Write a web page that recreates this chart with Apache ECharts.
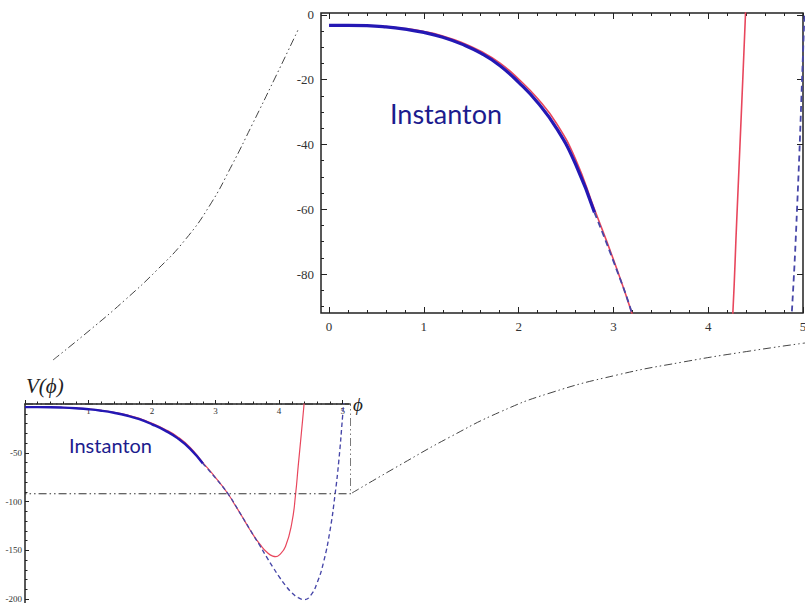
<!DOCTYPE html>
<html>
<head>
<meta charset="utf-8">
<script src="https://cdn.jsdelivr.net/npm/echarts@6/dist/echarts.min.js"></script>
<style>
	html, body { margin: 0; padding: 0; background: #fff; }
	#chart { width: 805px; height: 603px; }
</style>
</head>
<body>
<div id="chart"></div>
<script>
// red solid potential
var phiRed = [0, 0.4, 0.8, 1.0, 1.2, 1.4, 1.6, 1.8, 2.0, 2.2, 2.4, 2.6, 2.8, 3.0, 3.2, 3.3, 3.4, 3.5, 3.6, 3.7, 3.8, 3.9, 3.95, 4.0, 4.1, 4.2, 4.26, 4.3, 4.35, 4.39, 4.42]
var vRed = [-3.2, -3.3, -4.2, -5.1, -6.5, -8.5, -11.2, -14.8, -19.8, -25.8, -33.5, -44.5, -60, -75.5, -92.5, -103, -113.5, -124.5, -135, -144, -151.5, -156, -156.5, -155, -146, -122, -92, -64, -30, -2, 20]
// blue dashed potential
var phiBlue = [2.8, 3.0, 3.2, 3.4, 3.6, 3.7, 3.8, 3.9, 4.0, 4.1, 4.2, 4.3, 4.4, 4.5, 4.6, 4.7, 4.8, 4.88, 4.94, 5.0, 5.03]
var vBlue = [-61, -76, -92.5, -113.5, -135, -145.5, -156.5, -167, -177, -186, -193.5, -198.5, -200.5, -196, -183, -162, -130, -93, -58, -12, 12]
// thick blue instanton piece
var phiInst = [0, 0.2, 0.4, 0.6, 0.8, 1.0, 1.2, 1.4, 1.6, 1.8, 2.0, 2.2, 2.4, 2.6, 2.8]
var vInst = [-3.2, -3.2, -3.3, -3.7, -4.4, -5.4, -6.9, -9.0, -11.8, -15.6, -20.8, -27, -35, -46, -61]

// zoom box drawn on the main plot (phi, V)
var boxPhi = [0, 5.13, 5.13, 0]
var boxV = [0, 0, -92, -92]

// tick values
var insetMajorX = [0, 1, 2, 3, 4, 5]
var insetMinorX = [0.2, 0.4, 0.6, 0.8, 1.2, 1.4, 1.6, 1.8, 2.2, 2.4, 2.6, 2.8, 3.2, 3.4, 3.6, 3.8, 4.2, 4.4, 4.6, 4.8]
var insetMajorY = [-80, -60, -40, -20, 0]
var insetMinorY = [-90, -85, -75, -70, -65, -55, -50, -45, -35, -30, -25, -15, -10, -5]
var mainMajorX = [0, 1, 2, 3, 4, 5]
var mainLabelX = [1, 2, 3, 4, 5]
var mainMinorX = [0.2, 0.4, 0.6, 0.8, 1.2, 1.4, 1.6, 1.8, 2.2, 2.4, 2.6, 2.8, 3.2, 3.4, 3.6, 3.8, 4.2, 4.4, 4.6, 4.8]
var mainMajorY = [-200, -150, -100, -50]
var mainLabelY = [-200, -150, -100, -50]
var mainMinorY = [-190, -180, -170, -160, -140, -130, -120, -110, -90, -80, -70, -60, -40, -30, -20, -10]

// connector curves, in page units of the overlay
var linkAX = [53, 90, 125, 157, 185, 210, 232, 252, 275, 298]
var linkAY = [360, 330, 300, 270, 240, 205, 165, 125, 78, 30]
var linkBX = [352, 400, 450, 500, 550, 617, 683, 750, 805]
var linkBY = [493, 465, 437, 412, 393, 375, 362, 351, 343]

function pairs(xs, ys) {
	return xs.map(function(x, i) { return [x, ys[i]] })
}

var serif = 'Liberation Serif'
var axisColor = '#222'
var dashDot = [8, 3, 1.5, 3, 1.5, 3]

function tickAxis(grid, min, max, pos, values, len, labels, labelOpt) {
	return {
		type: 'value', gridIndex: grid, min: min, max: max, position: pos,
		axisLine: { show: false, onZero: false },
		axisTick: { show: true, inside: true, length: len, customValues: values, lineStyle: { color: axisColor, width: 1 } },
		axisLabel: labels ? Object.assign({ customValues: labels, color: '#333', fontFamily: serif }, labelOpt) : { show: false },
		splitLine: { show: false }
	}
}

var xAxes = [
	// inset (grid 0)
	tickAxis(0, -0.085, 5.0, 'bottom', insetMajorX, 6, insetMajorX, { fontSize: 13, margin: 7 }),
	tickAxis(0, -0.085, 5.0, 'bottom', insetMinorX, 3, null),
	tickAxis(0, -0.085, 5.0, 'top', insetMajorX, 6, null),
	tickAxis(0, -0.085, 5.0, 'top', insetMinorX, 3, null),
	// main (grid 1): the axis sits on top, at V = 0, ticks up and labels below
	tickAxis(1, 0, 5.1, 'top', mainMajorX, 4, mainLabelX, { fontSize: 9, margin: 2, inside: true }),
	tickAxis(1, 0, 5.1, 'top', mainMinorX, 2.5, null),
	// overlay (grid 2)
	{ type: 'value', gridIndex: 2, min: 0, max: 805, show: false }
]
xAxes[4].axisLine = { show: true, onZero: false, lineStyle: { color: axisColor, width: 1.5 } }
xAxes[4].axisTick.inside = false
xAxes[5].axisTick.inside = false
xAxes[4].name = 'ϕ'
xAxes[4].nameLocation = 'end'
xAxes[4].nameGap = 4
xAxes[4].nameTextStyle = { fontFamily: serif, fontStyle: 'italic', fontSize: 19, color: '#222', verticalAlign: 'middle', padding: [14, 0, 0, 0] }

var yAxes = [
	tickAxis(0, -92, 0.6, 'left', insetMajorY, 6, insetMajorY, { fontSize: 13, margin: 7 }),
	tickAxis(0, -92, 0.6, 'left', insetMinorY, 3, null),
	tickAxis(0, -92, 0.6, 'right', insetMajorY, 6, null),
	tickAxis(1, -204, 0, 'left', mainMajorY, 4, mainLabelY, { fontSize: 9, margin: 3 }),
	tickAxis(1, -204, 0, 'left', mainMinorY, 2.5, null),
	{ type: 'value', gridIndex: 2, min: 0, max: 603, inverse: true, show: false }
]
yAxes[3].axisLine = { show: true, onZero: false, lineStyle: { color: axisColor, width: 1.5 } }

function curves(xi, yi, k) {
	return [{
		type: 'line', xAxisIndex: xi, yAxisIndex: yi, data: pairs(phiRed, vRed),
		symbol: 'none', smooth: 0.5,
		lineStyle: { color: '#e8465c', width: 1.6 * k }
	}, {
		type: 'line', xAxisIndex: xi, yAxisIndex: yi, data: pairs(phiBlue, vBlue),
		symbol: 'none', smooth: 0.5,
		lineStyle: { color: '#4646a8', width: 1.8 * k, type: [6 * k, 4 * k] }
	}, {
		type: 'line', xAxisIndex: xi, yAxisIndex: yi, data: pairs(phiInst, vInst),
		symbol: 'none', smooth: 0.5,
		lineStyle: { color: '#2418b4', width: 3.2 * k }
	}]
}

var series = [].concat(curves(0, 0, 1), curves(4, 3, 0.75), [{
	type: 'line', xAxisIndex: 4, yAxisIndex: 3, data: pairs(boxPhi, boxV),
	symbol: 'none', clip: false,
	lineStyle: { color: '#333', width: 1.1, type: dashDot }
}, {
	type: 'line', xAxisIndex: 6, yAxisIndex: 5, data: pairs(linkAX, linkAY),
	symbol: 'none', smooth: 0.5, clip: false,
	lineStyle: { color: '#444', width: 1, type: dashDot }
}, {
	type: 'line', xAxisIndex: 6, yAxisIndex: 5, data: pairs(linkBX, linkBY),
	symbol: 'none', smooth: 0.5, clip: false,
	lineStyle: { color: '#444', width: 1, type: dashDot }
}])

var myChart = echarts.init(document.getElementById('chart'), null, { renderer: 'svg' })
myChart.setOption({
	animation: false,
	backgroundColor: '#fff',
	grid: [{
		left: 321, top: 13, width: 482, height: 300, outerBoundsMode: 'none',
		show: true, borderColor: axisColor, borderWidth: 1.5, backgroundColor: 'transparent'
	}, {
		left: 25, top: 404, width: 324, height: 199, outerBoundsMode: 'none'
	}, {
		left: 0, top: 0, width: 805, height: 603, outerBoundsMode: 'none'
	}],
	xAxis: xAxes,
	yAxis: yAxes,
	graphic: [{
		type: 'text', left: 390, top: 100,
		style: { text: 'Instanton', fontFamily: 'Lato', fontSize: 27, fill: '#1c1c8e' }
	}, {
		type: 'text', left: 69, top: 435,
		style: { text: 'Instanton', fontFamily: 'Lato', fontSize: 20, fill: '#1c1c8e' }
	}, {
		type: 'text', left: 26, top: 375,
		style: { text: 'V(ϕ)', fontFamily: serif, fontStyle: 'italic', fontSize: 21, fill: '#222' }
	}],
	series: series
})
</script>
</body>
</html>
